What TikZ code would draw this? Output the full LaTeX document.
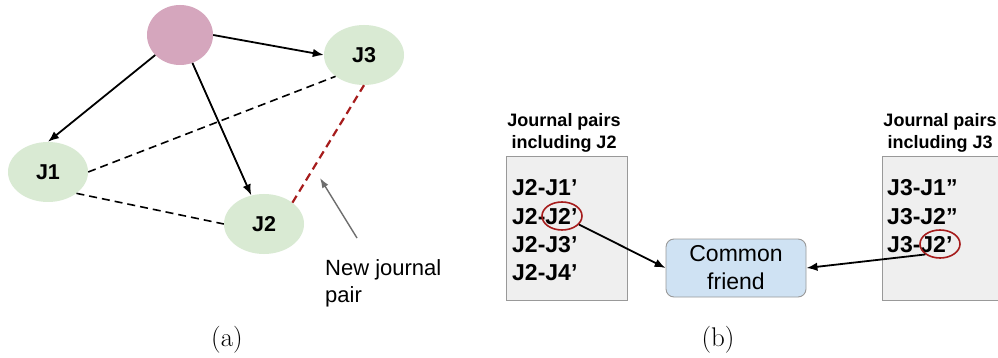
\documentclass[tikz,border=0pt]{standalone}
\usepackage{fontspec}
\newfontfamily\arial{Liberation Sans}
\usetikzlibrary{shapes.geometric,arrows.meta}
\definecolor{pinkc}{HTML}{D5A6BD}
\definecolor{greenc}{HTML}{D9EAD3}
\definecolor{redc}{HTML}{A61C1C}
\definecolor{grayfill}{HTML}{EFEFEF}
\definecolor{grayline}{HTML}{999999}
\definecolor{bluec}{HTML}{CFE2F3}
\definecolor{arrgray}{HTML}{6E6E6E}
\begin{document}
\begin{tikzpicture}[x=1pt,y=-1pt,
  jnode/.style={ellipse, fill=greenc, minimum width=80pt, minimum height=60pt, inner sep=0pt,
    font=\arial\bfseries\fontsize{21.5}{25}\selectfont},
  arr/.style={-{Latex[length=11pt,width=8.5pt]}, line width=1.8pt},
  garr/.style={-{Latex[length=10pt,width=7pt]}, line width=1.4pt, draw=arrgray},
  dline/.style={line width=1.6pt, dash pattern=on 8pt off 5pt},
  rline/.style={line width=2.2pt, draw=redc, dash pattern=on 8pt off 5pt},
  pairbox/.style={draw=grayline, fill=grayfill, line width=0.9pt, inner sep=0pt, minimum height=144pt},
  boxtitle/.style={align=center, inner sep=0pt, font=\arial\bfseries\fontsize{18}{22}\selectfont},
  entry/.style={anchor=base west, inner sep=0pt, font=\arial\bfseries\fontsize{23}{26}\selectfont},
  redring/.style={ellipse, draw=redc, line width=1.6pt, minimum width=40pt, minimum height=28pt, inner sep=0pt},
  caption/.style={inner sep=0pt, font=\fontsize{27}{32}\selectfont}
]
\path[use as bounding box, fill=white] (0,0) rectangle (998,358);

% ---------- panel (a) ----------
\node[ellipse, fill=pinkc, minimum width=66pt, minimum height=60pt, inner sep=0pt] (P) at (180,35) {};
\node[jnode] (J3) at (364,55) {J3};
\node[jnode] (J1) at (48,172) {J1};
\node[jnode] (J2) at (264,224) {J2};

\draw[arr] (P.east) -- (J3.west);
\draw[arr] (P) -- (J1.north);
\draw[arr] (P) -- (J2);

\draw[dline] (J1.east) -- (J3.south west);
\draw[dline] (J1.south east) -- (J2.west);
\draw[rline] (J2.north east) -- (J3.south);

\coordinate (ga) at (357,238);
\coordinate (gb) at (320,178);
\draw[garr] (ga) -- (gb);
\node[anchor=north west, align=left, inner sep=0pt, font=\arial\fontsize{22}{27}\selectfont] (nj) at (325,259) {New journal\\pair};

\node[caption] (capa) at (227,340) {(a)};

% ---------- panel (b) ----------
\node[pairbox, minimum width=121pt] (L) at (566.5,228) {};
\begin{scope}
  \clip (0,0) rectangle (998,358);
  \node[pairbox, minimum width=130pt] (R) at (947,228) {};
\end{scope}

\node[boxtitle] (tL) at (564,133) {Journal pairs\\including J2};
\node[boxtitle] (tR) at (940,133) {Journal pairs\\including J3};

\node[entry] (l1) at (512,196) {J2-J1’};
\node[entry] (l2) at (512,224) {J2-J2’};
\node[entry] (l3) at (512,252) {J2-J3’};
\node[entry] (l4) at (512,280) {J2-J4’};

\node[entry] (r1) at (887,196) {J3-J1”};
\node[entry] (r2) at (887,224) {J3-J2”};
\node[entry] (r3) at (887,252) {J3-J2’};

\node[redring] (c1) at (562,216) {};
\node[redring] (c2) at (940,244) {};

\node[draw=grayline, fill=bluec, line width=0.9pt, rounded corners=8pt, minimum width=140pt, minimum height=58pt,
  align=center, inner sep=0pt, font=\arial\fontsize{23}{28}\selectfont] (cf) at (736,268) {Common\\friend};

\draw[arr] (c1) -- (cf.west);
\draw[arr] (c2.south west) -- (cf.east);

\node[caption] (capb) at (718,340) {(b)};
\end{tikzpicture}
\end{document}
